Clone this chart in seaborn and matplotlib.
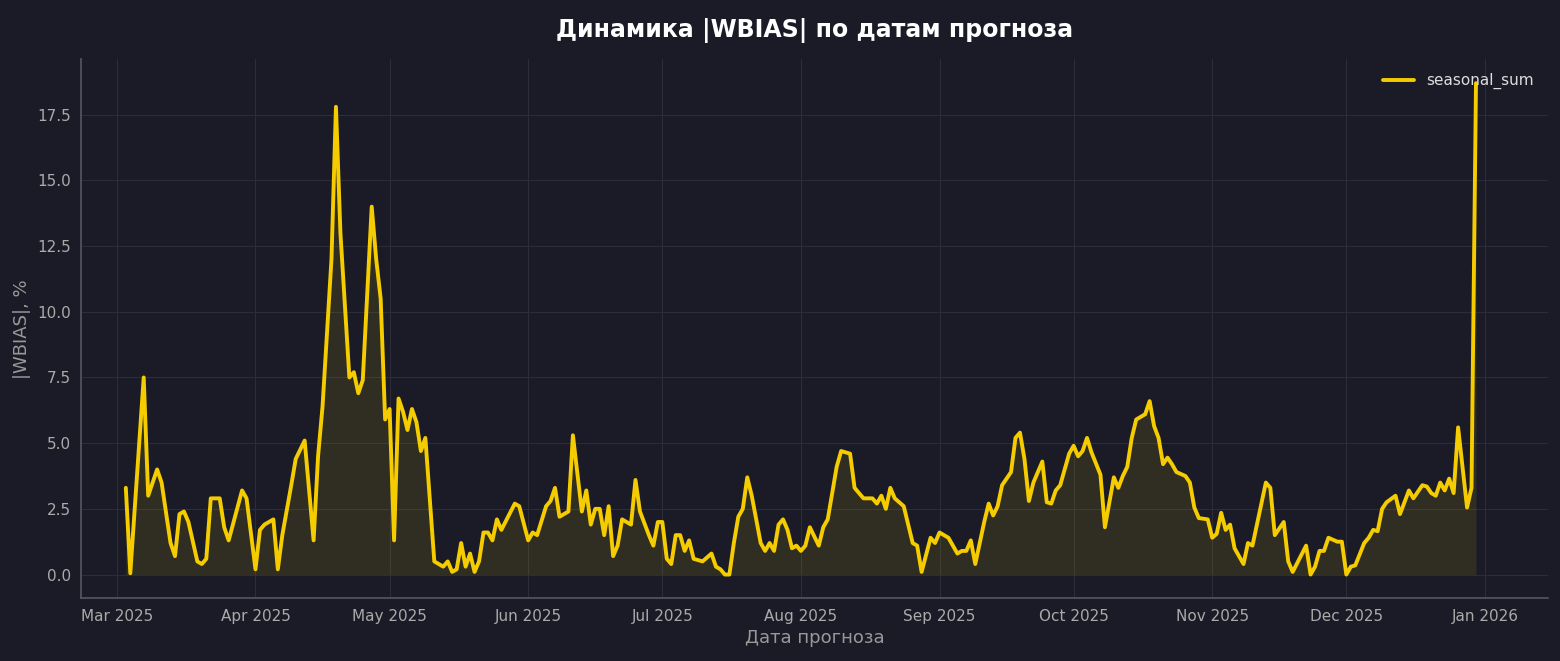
import pandas as pd
import matplotlib.pyplot as plt
import matplotlib.dates as mdates
import seaborn as sns

# day offsets from 2025-03-01 and |WBIAS| values
day_offset = [2, 3, 6, 7, 9, 10, 12, 13, 14, 15, 16, 18, 19, 20, 21, 23, 24, 25, 28, 29,
              31, 32, 33, 35, 36, 37, 39, 40, 42, 44, 45, 46, 48, 49, 50, 52, 53, 54, 55, 57,
              58, 59, 60, 61, 62, 63, 64, 65, 66, 67, 68, 69, 71, 73, 74, 75, 76, 77, 78, 79,
              80, 81, 82, 83, 84, 85, 86, 89, 90, 92, 93, 94, 96, 97, 98, 99, 101, 102, 104, 105,
              106, 107, 108, 109, 110, 111, 112, 113, 115, 116, 117, 119, 120, 121, 122, 123, 124, 125, 126, 127,
              128, 129, 131, 133, 134, 135, 136, 137, 138, 139, 140, 141, 142, 144, 145, 146, 147, 148, 149, 150,
              151, 152, 153, 154, 155, 157, 158, 159, 161, 162, 164, 165, 167, 169, 170, 171, 172, 173, 174, 176,
              178, 179, 180, 182, 183, 184, 186, 188, 189, 190, 191, 192, 194, 195, 196, 197, 198, 200, 201, 202,
              203, 204, 205, 207, 208, 209, 210, 211, 213, 214, 215, 216, 217, 218, 220, 221, 223, 224, 225, 226,
              227, 228, 230, 231, 232, 233, 234, 235, 236, 237, 239, 240, 241, 242, 244, 245, 246, 247, 248, 249,
              250, 252, 253, 254, 257, 258, 259, 261, 262, 263, 266, 267, 268, 269, 270, 271, 273, 274, 275, 276,
              277, 279, 280, 281, 282, 283, 284, 286, 287, 289, 290, 292, 293, 294, 295, 296, 297, 298, 299, 300,
              302, 303, 304]
wbias = [3.3, 0.05, 7.5, 3.0, 4.0, 3.5, 1.2, 0.7, 2.3, 2.4, 2.0, 0.5, 0.4, 0.6, 2.9, 2.9, 1.8, 1.3, 3.2, 2.9,
         0.2, 1.7, 1.9, 2.1, 0.2, 1.5, 3.4, 4.4, 5.1, 1.3, 4.5, 6.4, 12.0, 17.8, 13.0, 7.5, 7.7, 6.9, 7.4, 14.0,
         12.0, 10.5, 5.9, 6.3, 1.3, 6.7, 6.2, 5.5, 6.3, 5.8, 4.7, 5.2, 0.5, 0.3, 0.5, 0.1, 0.2, 1.2, 0.3, 0.8,
         0.1, 0.5, 1.6, 1.6, 1.3, 2.1, 1.7, 2.7, 2.6, 1.3, 1.6, 1.5, 2.6, 2.8, 3.3, 2.2, 2.4, 5.3, 2.4, 3.2,
         1.9, 2.5, 2.5, 1.5, 2.6, 0.7, 1.1, 2.1, 1.9, 3.6, 2.4, 1.5, 1.1, 2.0, 2.0, 0.6, 0.4, 1.5, 1.5, 0.9,
         1.3, 0.6, 0.5, 0.8, 0.3, 0.2, 0.0, 0.0, 1.2, 2.2, 2.5, 3.7, 3.0, 1.2, 0.9, 1.2, 0.9, 1.9, 2.1, 1.7,
         1.0, 1.1, 0.9, 1.1, 1.8, 1.1, 1.8, 2.1, 4.1, 4.7, 4.6, 3.3, 2.9, 2.9, 2.7, 3.0, 2.5, 3.3, 2.9, 2.6,
         1.2, 1.1, 0.1, 1.4, 1.2, 1.6, 1.4, 0.8, 0.9, 0.9, 1.3, 0.4, 2.0, 2.7, 2.25, 2.6, 3.4, 3.9, 5.2, 5.4,
         4.4, 2.8, 3.5, 4.3, 2.75, 2.7, 3.2, 3.4, 4.6, 4.9, 4.5, 4.7, 5.2, 4.65, 3.8, 1.8, 3.7, 3.3, 3.75, 4.1,
         5.2, 5.9, 6.1, 6.6, 5.65, 5.2, 4.2, 4.45, 4.2, 3.9, 3.75, 3.5, 2.55, 2.15, 2.1, 1.4, 1.55, 2.35, 1.7, 1.9,
         1.0, 0.4, 1.2, 1.1, 3.5, 3.3, 1.5, 2.0, 0.5, 0.1, 1.1, 0.0, 0.3, 0.9, 0.9, 1.4, 1.25, 1.25, 0.0, 0.3,
         0.35, 1.2, 1.4, 1.7, 1.65, 2.5, 2.75, 3.0, 2.3, 3.2, 2.9, 3.4, 3.35, 3.1, 3.0, 3.5, 3.2, 3.65, 3.1, 5.6,
         2.55, 3.3, 18.7]

df = pd.DataFrame({
    'date': pd.Timestamp('2025-03-01') + pd.to_timedelta(day_offset, unit='D'),
    'seasonal_sum': wbias,
})

bg = '#1a1b26'
gold = '#f5cc00'
sns.set_style('darkgrid')
plt.rcParams['font.family'] = ['DejaVu Sans']

fig, ax = plt.subplots(figsize=(15.6, 6.61), dpi=100)
fig.patch.set_facecolor(bg)
ax.set_facecolor(bg)

sns.lineplot(data=df, x='date', y='seasonal_sum', color=gold, linewidth=2.8,
             label='seasonal_sum', ax=ax)
ax.fill_between(df['date'], 0, df['seasonal_sum'], color=gold, alpha=0.1, linewidth=0)

ax.grid(True, color='#2c2d38', linewidth=0.8)
ax.set_xlim(pd.Timestamp('2025-02-21'), pd.Timestamp('2026-01-15'))
ax.set_ylim(-0.9, 19.6)
ax.xaxis.set_major_locator(mdates.MonthLocator())
ax.xaxis.set_major_formatter(mdates.DateFormatter('%b %Y'))

for side in ['top', 'right']:
    ax.spines[side].set_visible(False)
for side in ['left', 'bottom']:
    ax.spines[side].set_visible(True)
    ax.spines[side].set_color('#555660')
    ax.spines[side].set_linewidth(1.2)
ax.tick_params(colors='#aaaaaa', labelsize=11, length=4)

ax.set_title('Динамика |WBIAS| по датам прогноза', color='white', fontsize=17,
             fontweight='bold', pad=16)
ax.set_xlabel('Дата прогноза', color='#999999', fontsize=13)
ax.set_ylabel('|WBIAS|, %', color='#999999', fontsize=13)

leg = ax.legend(loc='upper right', frameon=False, fontsize=11)
for t in leg.get_texts():
    t.set_color('#dddddd')

plt.subplots_adjust(left=0.052, right=0.992, top=0.91, bottom=0.095)
plt.savefig('out.png', dpi=100, facecolor=bg)
